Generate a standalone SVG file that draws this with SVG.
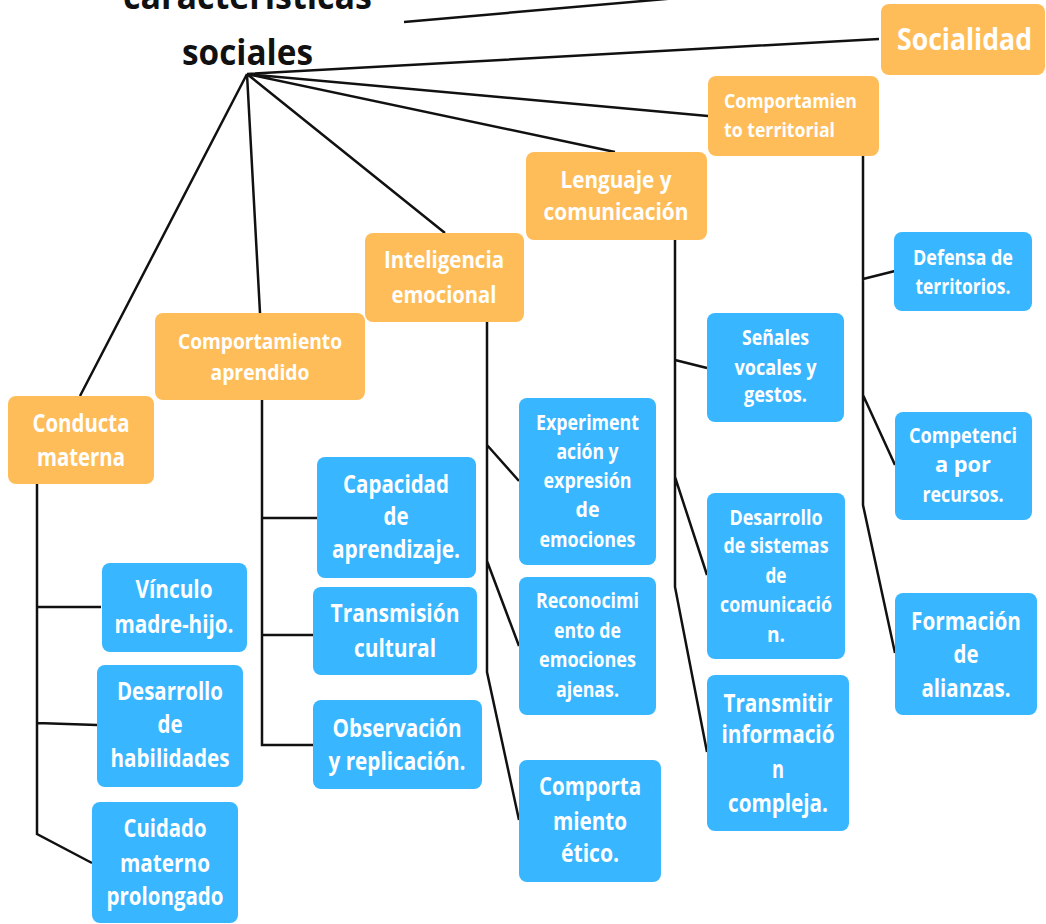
<svg xmlns="http://www.w3.org/2000/svg" width="1046" height="924" viewBox="0 0 1046 924">
<style>
.o{fill:#FFBD59}
.b{fill:#38B6FF}
text{font-family:"Open Sans","Noto Sans","Liberation Sans",sans-serif;font-weight:700;fill:#fff;text-anchor:middle}
.t{fill:#111;font-size:36px}
.s31{font-size:31px}.s25{font-size:25px}.s24{font-size:24px}.s22{font-size:22px}.s21{font-size:21px}.s20{font-size:20px}
#connectors path{fill:none;stroke:#111;stroke-width:2.5}
</style>
<rect width="1046" height="924" fill="#fff"/>
<g id="connectors">
<path d="M404,22 L700,-4"/>
<path d="M247,74 L80,396 M247,74 L260,313 M247,74 L445,233 M247,74 L615,152 M247,74 L708,116 M247,74 L879,39"/>
<path d="M37,484 V834 L92,863 M37,607 H101 M37,723 L97,725"/>
<path d="M262,400 V745 H313 M262,518 H317 M262,635 H313"/>
<path d="M487,322 V672 L519,820 M487,445 L519,481 M487,561 L519,646"/>
<path d="M675,240 V587 L707,752 M675,360 L707,368 M675,477 L707,575"/>
<path d="M863,156 V505 L895,653 M863,279 L895,271 M863,395 L895,465"/>
</g>
<g id="title">
<text class="t" x="247.5" y="9" textLength="249" lengthAdjust="spacingAndGlyphs">características</text>
<text class="t" x="247.5" y="65" textLength="131" lengthAdjust="spacingAndGlyphs">sociales</text>
</g>
<g id="socialidad"><rect class="o" x="881" y="4" width="164" height="71" rx="8"/>
<text class="s31" x="964.5" y="50" textLength="135" lengthAdjust="spacingAndGlyphs">Socialidad</text></g>
<g id="territorial"><rect class="o" x="708" y="76" width="171" height="80" rx="8"/>
<text class="s20" style="text-anchor:start" x="724" y="108" textLength="133" lengthAdjust="spacingAndGlyphs">Comportamien</text>
<text class="s20" style="text-anchor:start" x="724" y="137" textLength="111" lengthAdjust="spacingAndGlyphs">to territorial</text></g>
<g id="lenguaje"><rect class="o" x="526" y="152" width="181" height="88" rx="8"/>
<text class="s24" x="616" y="188" textLength="111" lengthAdjust="spacingAndGlyphs">Lenguaje y</text>
<text class="s24" x="616" y="220" textLength="145" lengthAdjust="spacingAndGlyphs">comunicación</text></g>
<g id="inteligencia"><rect class="o" x="365" y="233" width="159" height="89" rx="8"/>
<text class="s24" x="444" y="268" textLength="120" lengthAdjust="spacingAndGlyphs">Inteligencia</text>
<text class="s24" x="444" y="303" textLength="105" lengthAdjust="spacingAndGlyphs">emocional</text></g>
<g id="aprendido"><rect class="o" x="155" y="313" width="210" height="87" rx="8"/>
<text class="s22" x="260" y="349" textLength="164" lengthAdjust="spacingAndGlyphs">Comportamiento</text>
<text class="s22" x="260" y="380" textLength="99" lengthAdjust="spacingAndGlyphs">aprendido</text></g>
<g id="conducta"><rect class="o" x="8" y="396" width="146" height="88" rx="8"/>
<text class="s25" x="81" y="432" textLength="97" lengthAdjust="spacingAndGlyphs">Conducta</text>
<text class="s25" x="81" y="466" textLength="88" lengthAdjust="spacingAndGlyphs">materna</text></g>
<g id="vinculo"><rect class="b" x="102" y="563" width="145" height="89" rx="8"/>
<text class="s25" x="174" y="598" textLength="77" lengthAdjust="spacingAndGlyphs">Vínculo</text>
<text class="s25" x="174" y="633" textLength="119" lengthAdjust="spacingAndGlyphs">madre-hijo.</text></g>
<g id="habilidades"><rect class="b" x="97" y="665" width="146" height="122" rx="8"/>
<text class="s25" x="170" y="700" textLength="106" lengthAdjust="spacingAndGlyphs">Desarrollo</text>
<text class="s25" x="170" y="733" textLength="25" lengthAdjust="spacingAndGlyphs">de</text>
<text class="s25" x="170" y="767" textLength="119" lengthAdjust="spacingAndGlyphs">habilidades</text></g>
<g id="cuidado"><rect class="b" x="92" y="802" width="146" height="121" rx="8"/>
<text class="s25" x="165" y="837" textLength="83" lengthAdjust="spacingAndGlyphs">Cuidado</text>
<text class="s25" x="165" y="872" textLength="90" lengthAdjust="spacingAndGlyphs">materno</text>
<text class="s25" x="165" y="905" textLength="117" lengthAdjust="spacingAndGlyphs">prolongado</text></g>
<g id="capacidad"><rect class="b" x="317" y="457" width="159" height="121" rx="8"/>
<text class="s25" x="396" y="493" textLength="106" lengthAdjust="spacingAndGlyphs">Capacidad</text>
<text class="s25" x="396" y="525" textLength="25" lengthAdjust="spacingAndGlyphs">de</text>
<text class="s25" x="396" y="558" textLength="128" lengthAdjust="spacingAndGlyphs">aprendizaje.</text></g>
<g id="transmision"><rect class="b" x="313" y="587" width="164" height="88" rx="8"/>
<text class="s25" x="395" y="622" textLength="129" lengthAdjust="spacingAndGlyphs">Transmisión</text>
<text class="s25" x="395" y="657" textLength="82" lengthAdjust="spacingAndGlyphs">cultural</text></g>
<g id="observacion"><rect class="b" x="313" y="700" width="169" height="89" rx="8"/>
<text class="s25" x="397" y="737" textLength="129" lengthAdjust="spacingAndGlyphs">Observación</text>
<text class="s25" x="397" y="770" textLength="137" lengthAdjust="spacingAndGlyphs">y replicación.</text></g>
<g id="experimentacion"><rect class="b" x="519" y="398" width="137" height="167" rx="8"/>
<text class="s21" x="587.5" y="430" textLength="103" lengthAdjust="spacingAndGlyphs">Experiment</text>
<text class="s21" x="587.5" y="459" textLength="62" lengthAdjust="spacingAndGlyphs">ación y</text>
<text class="s21" x="587.5" y="488" textLength="88" lengthAdjust="spacingAndGlyphs">expresión</text>
<text class="s21" x="587.5" y="517" textLength="24" lengthAdjust="spacingAndGlyphs">de</text>
<text class="s21" x="587.5" y="547" textLength="96" lengthAdjust="spacingAndGlyphs">emociones</text></g>
<g id="reconocimiento"><rect class="b" x="519" y="577" width="137" height="138" rx="8"/>
<text class="s21" x="587.5" y="608" textLength="103" lengthAdjust="spacingAndGlyphs">Reconocimi</text>
<text class="s21" x="587.5" y="638" textLength="67" lengthAdjust="spacingAndGlyphs">ento de</text>
<text class="s21" x="587.5" y="667" textLength="97" lengthAdjust="spacingAndGlyphs">emociones</text>
<text class="s21" x="587.5" y="697" textLength="63" lengthAdjust="spacingAndGlyphs">ajenas.</text></g>
<g id="etico"><rect class="b" x="519" y="760" width="142" height="122" rx="8"/>
<text class="s25" x="590" y="795" textLength="102" lengthAdjust="spacingAndGlyphs">Comporta</text>
<text class="s25" x="590" y="830" textLength="74" lengthAdjust="spacingAndGlyphs">miento</text>
<text class="s25" x="590" y="862" textLength="58" lengthAdjust="spacingAndGlyphs">ético.</text></g>
<g id="senales"><rect class="b" x="707" y="313" width="137" height="109" rx="8"/>
<text class="s21" x="775.5" y="345" textLength="67" lengthAdjust="spacingAndGlyphs">Señales</text>
<text class="s21" x="775.5" y="375" textLength="82" lengthAdjust="spacingAndGlyphs">vocales y</text>
<text class="s21" x="775.5" y="402" textLength="63" lengthAdjust="spacingAndGlyphs">gestos.</text></g>
<g id="sistemas"><rect class="b" x="707" y="493" width="138" height="166" rx="8"/>
<text class="s21" x="776" y="525" textLength="93" lengthAdjust="spacingAndGlyphs">Desarrollo</text>
<text class="s21" x="776" y="553" textLength="105" lengthAdjust="spacingAndGlyphs">de sistemas</text>
<text class="s21" x="776" y="583" textLength="21" lengthAdjust="spacingAndGlyphs">de</text>
<text class="s21" x="776" y="612" textLength="112" lengthAdjust="spacingAndGlyphs">comunicació</text>
<text class="s21" x="776" y="642" textLength="18" lengthAdjust="spacingAndGlyphs">n.</text></g>
<g id="transmitir"><rect class="b" x="707" y="675" width="142" height="156" rx="8"/>
<text class="s25" x="778" y="712" textLength="109" lengthAdjust="spacingAndGlyphs">Transmitir</text>
<text class="s25" x="778" y="743" textLength="113" lengthAdjust="spacingAndGlyphs">informació</text>
<text class="s25" x="778" y="778" textLength="12" lengthAdjust="spacingAndGlyphs">n</text>
<text class="s25" x="778" y="812" textLength="100" lengthAdjust="spacingAndGlyphs">compleja.</text></g>
<g id="defensa"><rect class="b" x="894" y="232" width="138" height="79" rx="8"/>
<text class="s21" x="963" y="265" textLength="100" lengthAdjust="spacingAndGlyphs">Defensa de</text>
<text class="s21" x="963" y="294" textLength="95" lengthAdjust="spacingAndGlyphs">territorios.</text></g>
<g id="competencia"><rect class="b" x="895" y="412" width="137" height="108" rx="8"/>
<text class="s21" x="963" y="443" textLength="108" lengthAdjust="spacingAndGlyphs">Competenci</text>
<text class="s21" x="963" y="472" textLength="56" lengthAdjust="spacingAndGlyphs">a por</text>
<text class="s21" x="963" y="502" textLength="81" lengthAdjust="spacingAndGlyphs">recursos.</text></g>
<g id="alianzas"><rect class="b" x="895" y="593" width="142" height="122" rx="8"/>
<text class="s25" x="966" y="630" textLength="110" lengthAdjust="spacingAndGlyphs">Formación</text>
<text class="s25" x="966" y="663" textLength="25" lengthAdjust="spacingAndGlyphs">de</text>
<text class="s25" x="966" y="697" textLength="89" lengthAdjust="spacingAndGlyphs">alianzas.</text></g>
</svg>
